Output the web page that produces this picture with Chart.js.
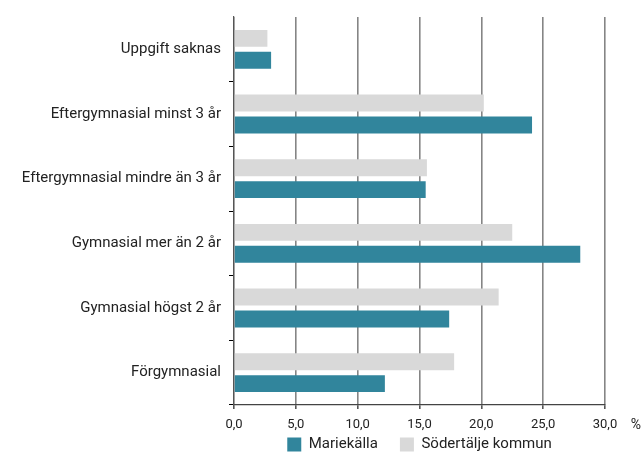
<!DOCTYPE html>
<html>
<head>
<meta charset="utf-8">
<script src="https://cdn.jsdelivr.net/npm/chart.js@4"></script>
<style>
  html, body { margin: 0; padding: 0; background: #ffffff; }
  #wrap { width: 643px; height: 452px; }
</style>
</head>
<body>
<div id="wrap"><canvas id="c" width="643" height="452"></canvas></div>
<script>
const categories = [
  'Uppgift saknas',
  'Eftergymnasial minst 3 år',
  'Eftergymnasial mindre än 3 år',
  'Gymnasial mer än 2 år',
  'Gymnasial högst 2 år',
  'Förgymnasial'
];
const mariekalla = [3.0, 24.1, 15.5, 28.0, 17.4, 12.2];
const sodertalje = [2.7, 20.2, 15.6, 22.5, 21.4, 17.8];
const seriesNames = ['Mariekälla', 'Södertälje kommun'];
const xMin = 0, xMax = 30, xStep = 5;
const unitLabel = '%';

const TEAL = '#31859c';
const GREY = '#d9d9d9';
const FONT = 'Roboto, "DejaVu Sans", sans-serif';
const TEXT = '#222222';
const LEG_PAD = 22;
const LEG_BOX_TOP = 437;

const unitPlugin = {
  id: 'unitLabel',
  afterLayout(chart) {
    const lg = chart.legend;
    if (lg) {
      const dy = (LEG_BOX_TOP - LEG_PAD) - lg.top;
      lg.top += dy;
      lg.bottom += dy;
    }
  },
  afterDraw(chart) {
    const xs = chart.scales.x;
    const ctx = chart.ctx;
    ctx.save();
    ctx.font = '14px ' + FONT;
    ctx.fillStyle = TEXT;
    ctx.textAlign = 'center';
    ctx.textBaseline = 'middle';
    ctx.fillText(unitLabel, xs.getPixelForValue(xMax) + 31, xs.top + 20);
    ctx.restore();
  }
};

new Chart(document.getElementById('c'), {
  type: 'bar',
  data: {
    labels: categories,
    datasets: [
      { label: seriesNames[1], data: sodertalje, backgroundColor: GREY, borderWidth: 0,
        categoryPercentage: 0.68, barPercentage: 0.77 },
      { label: seriesNames[0], data: mariekalla, backgroundColor: TEAL, borderWidth: 0,
        categoryPercentage: 0.68, barPercentage: 0.77 }
    ]
  },
  options: {
    indexAxis: 'y',
    responsive: false,
    animation: false,
    layout: { padding: { top: 12, right: 38, left: 0, bottom: -30 } },
    scales: {
      x: {
        min: xMin, max: xMax,
        ticks: {
          stepSize: xStep,
          color: TEXT,
          font: { family: FONT, size: 13 },
          padding: 8,
          callback: (v) => Number(v).toFixed(1).replace('.', ',')
        },
        grid: { color: '#858585', lineWidth: 1.6, drawTicks: true, tickLength: 4, tickColor: '#555' },
        border: { color: '#444', width: 1.2 },
        afterFit: (s) => { s.height = 30; }
      },
      y: {
        ticks: {
          color: TEXT,
          font: { family: FONT, size: 15 },
          padding: 8
        },
        grid: {
          drawOnChartArea: false, drawTicks: true, tickLength: 5, offset: true,
          tickColor: (ctx) => (ctx.index === 0 ? 'rgba(0,0,0,0)' : '#000')
        },
        border: { color: '#555', width: 1.2 },
        afterFit: (s) => { s.width = 234; }
      }
    },
    plugins: {
      legend: {
        position: 'bottom',
        fullSize: false,
        reverse: true,
        labels: {
          boxWidth: 14, boxHeight: 14, padding: LEG_PAD,
          color: TEXT,
          font: { family: FONT, size: 15 }
        }
      },
      tooltip: { enabled: false }
    }
  },
  plugins: [unitPlugin]
});
</script>
</body>
</html>
